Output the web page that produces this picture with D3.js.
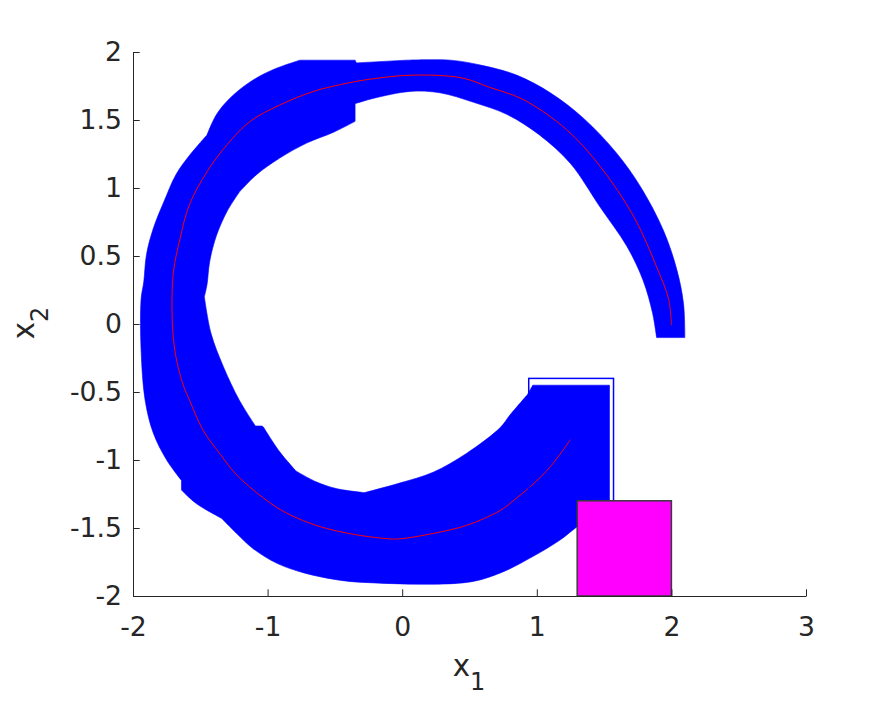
<!DOCTYPE html>
<html><head><meta charset="utf-8">
<script src="https://cdn.jsdelivr.net/npm/d3@7"></script>
<style>body{margin:0;background:#fff} svg{display:block}</style>
</head><body><svg id="c" width="891" height="703"></svg>
<script>
// ---- data (in data units) ----
const xTicks = [-2, -1, 0, 1, 2, 3];
const yTicks = [-2, -1.5, -1, -0.5, 0, 0.5, 1, 1.5, 2];

// simulated trajectory (red)
const trajX = [1.25, 1.10, 0.97, 0.85, 0.73, 0.48, 0.23, -0.02, -0.09, -0.34, -0.61, -0.86, -1.03, -1.23, -1.35, -1.48, -1.58, -1.63, -1.69, -1.71, -1.70, -1.65, -1.58, -1.45, -1.30, -1.13, -0.91, -0.66, -0.46, -0.24, 0.08, 0.44, 0.65, 0.90, 1.22, 1.47, 1.72, 1.89, 1.98, 2.00];
const trajY = [-0.85, -1.05, -1.18, -1.28, -1.37, -1.48, -1.54, -1.58, -1.58, -1.55, -1.49, -1.39, -1.28, -1.11, -0.96, -0.78, -0.56, -0.44, -0.19, 0.10, 0.38, 0.63, 0.88, 1.12, 1.32, 1.49, 1.61, 1.71, 1.76, 1.80, 1.83, 1.81, 1.74, 1.65, 1.43, 1.16, 0.79, 0.42, 0.18, -0.01];

// reachable tube: inner edge (start -> end) and outer edge (end -> start)
const tubeInnerX = [0.93, 0.80, 0.73, 0.48, 0.23, -0.02, -0.28, -0.49, -0.64, -0.79, -0.91, -1.03, -1.04, -1.09, -1.21, -1.33, -1.42, -1.47, -1.45, -1.43, -1.38, -1.30, -1.21, -1.08, -0.91, -0.71, -0.51, -0.35, -0.35, -0.21, 0.06, 0.28, 0.53, 0.78, 1.02, 1.25, 1.47, 1.67, 1.79, 1.86, 1.89];
const tubeInnerY = [-0.52, -0.67, -0.76, -0.95, -1.09, -1.17, -1.24, -1.21, -1.16, -1.08, -0.94, -0.76, -0.75, -0.75, -0.56, -0.31, -0.07, 0.20, 0.29, 0.46, 0.65, 0.83, 0.97, 1.10, 1.22, 1.33, 1.41, 1.49, 1.62, 1.66, 1.71, 1.70, 1.63, 1.54, 1.39, 1.18, 0.86, 0.57, 0.32, 0.08, -0.10];
const tubeOuterX = [2.10, 2.09, 2.04, 1.94, 1.77, 1.59, 1.35, 1.10, 0.85, 0.60, 0.36, 0.03, -0.34, -0.35, -0.76, -0.96, -1.13, -1.28, -1.38, -1.45, -1.58, -1.68, -1.77, -1.85, -1.90, -1.92, -1.94, -1.94, -1.91, -1.85, -1.75, -1.64, -1.64, -1.53, -1.34, -1.23, -1.11, -0.93, -0.73, -0.49, -0.29, 0.48, 0.73, 0.97, 1.17, 1.30, 1.43, 1.54, 1.54, 0.97];
const tubeOuterY = [-0.10, 0.15, 0.40, 0.69, 1.01, 1.26, 1.51, 1.70, 1.83, 1.90, 1.94, 1.94, 1.92, 1.94, 1.94, 1.87, 1.78, 1.66, 1.54, 1.39, 1.24, 1.10, 0.90, 0.70, 0.51, 0.31, 0.18, -0.19, -0.56, -0.80, -1.00, -1.15, -1.22, -1.32, -1.43, -1.54, -1.65, -1.76, -1.83, -1.88, -1.90, -1.90, -1.83, -1.71, -1.59, -1.49, -1.40, -1.30, -0.45, -0.45];
// indices of sharp vertices (steps, cusps, box corners) on each edge
const tubeInnerCorners = [0, 6, 9, 11, 12, 13, 17, 22, 27, 28, 40];
const tubeOuterCorners = [0, 11, 12, 13, 14, 19, 31, 32, 34, 47, 48, 49];

// boxes: [xmin, xmax, ymin, ymax]
const initialSet = [0.94, 1.57, -1.30, -0.40];
const unsafeSet = [1.30, 2.00, -2.00, -1.30];

// ---- drawing ----
const svg = d3.select("#c");
const x = d3.scaleLinear().domain([-2, 3]).range([133, 806]);
const y = d3.scaleLinear().domain([-2, 2]).range([596, 52]);
const axisColor = "#262626";
const font = "DejaVu Sans, sans-serif";

// tube polygon: smooth runs between sharp vertices
const nIn = tubeInnerX.length;
const tubePts = tubeInnerX.map((v, i) => [v, tubeInnerY[i]])
  .concat(tubeOuterX.map((v, i) => [v, tubeOuterY[i]]));
const corners = tubeInnerCorners.concat(tubeOuterCorners.map(i => i + nIn)).sort((a, b) => a - b);
const runLine = d3.line().curve(d3.curveCatmullRom.alpha(0.5)).x(d => x(d[0])).y(d => y(d[1]));
let tubeD = "";
for (let k = 0; k < corners.length; k++) {
  const a = corners[k];
  const b = k + 1 < corners.length ? corners[k + 1] : tubePts.length + corners[0];
  const run = [];
  for (let i = a; i <= b; i++) run.push(tubePts[i % tubePts.length]);
  const s = runLine(run);
  tubeD += k === 0 ? s : s.replace(/^M/, "L");
}
tubeD += "Z";
svg.append("path").attr("d", tubeD)
  .attr("fill", "#0000ff").attr("stroke", "#0000ff").attr("stroke-width", 0.6);

// trajectory
svg.append("path")
  .attr("d", d3.line().curve(d3.curveCatmullRom.alpha(0.5)).x((d, i) => x(trajX[i])).y((d, i) => y(trajY[i]))(trajX))
  .attr("fill", "none").attr("stroke", "#ff0000").attr("stroke-width", 1);

// initial set outline
svg.append("rect")
  .attr("x", x(initialSet[0])).attr("y", y(initialSet[3]))
  .attr("width", x(initialSet[1]) - x(initialSet[0]))
  .attr("height", y(initialSet[2]) - y(initialSet[3]))
  .attr("fill", "none").attr("stroke", "#0000ff").attr("stroke-width", 1.5);

// unsafe set
svg.append("rect")
  .attr("x", x(unsafeSet[0])).attr("y", y(unsafeSet[3]))
  .attr("width", x(unsafeSet[1]) - x(unsafeSet[0]))
  .attr("height", y(unsafeSet[2]) - y(unsafeSet[3]))
  .attr("fill", "#ff00ff").attr("stroke", "#3a3a3a").attr("stroke-width", 1.5);

// axes
const gx = svg.append("g").attr("transform", `translate(0,${y(-2)})`)
  .call(d3.axisBottom(x).tickValues(xTicks).tickFormat(d => String(d)).tickSizeInner(-6.7).tickSizeOuter(0).tickPadding(21));
const gy = svg.append("g").attr("transform", `translate(${x(-2)},0)`)
  .call(d3.axisLeft(y).tickValues(yTicks).tickFormat(d => String(d)).tickSizeInner(-6.7).tickSizeOuter(0).tickPadding(11));
[gx, gy].forEach(g => {
  g.selectAll("path, line").attr("stroke", axisColor).attr("stroke-width", 1);
  g.selectAll("text").attr("fill", axisColor).style("font-family", font).style("font-size", "26.67px");
});

// axis labels
const xl = svg.append("text").attr("x", 469).attr("y", 676)
  .attr("text-anchor", "middle").attr("fill", axisColor)
  .style("font-family", font).style("font-size", "29.3px");
xl.append("tspan").text("x");
xl.append("tspan").attr("dy", 14).style("font-size", "24px").text("1");

const yl = svg.append("text").attr("transform", "translate(34,323) rotate(-90)")
  .attr("text-anchor", "middle").attr("fill", axisColor)
  .style("font-family", font).style("font-size", "29.3px");
yl.append("tspan").text("x");
yl.append("tspan").attr("dy", 14).style("font-size", "24px").text("2");
</script>
</body></html>
